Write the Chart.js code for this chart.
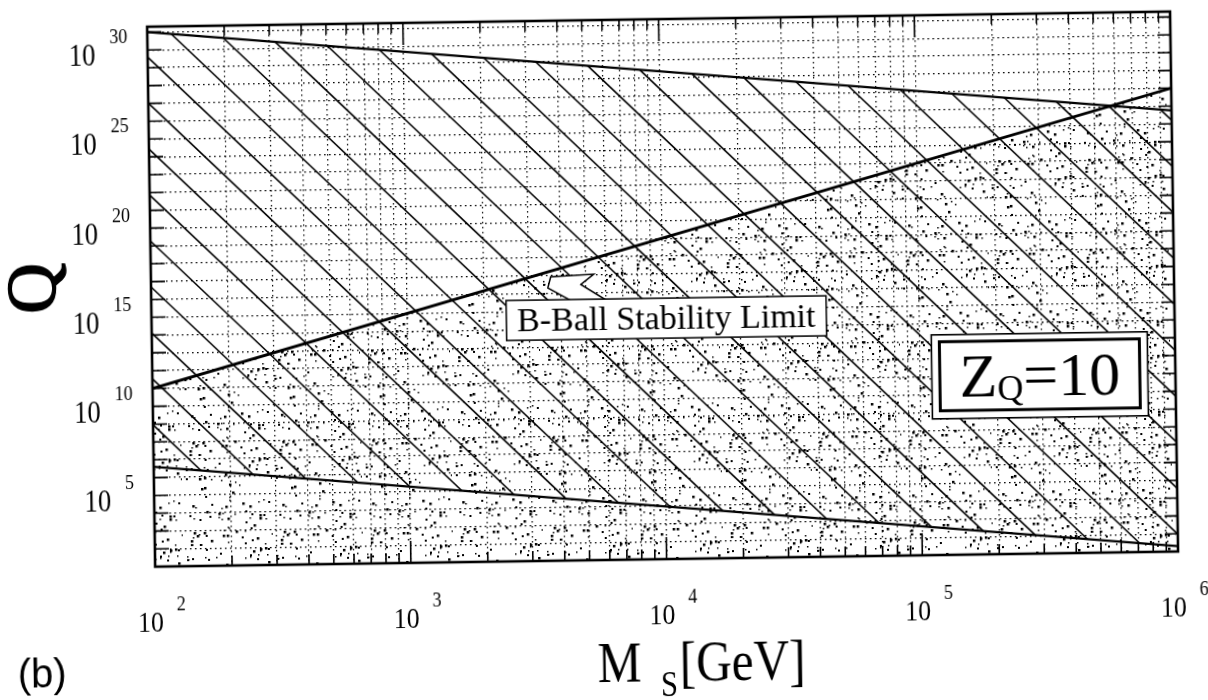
<!DOCTYPE html>
<html>
<head>
<meta charset="utf-8">
<script src="https://cdn.jsdelivr.net/npm/chart.js@4.4.1/dist/chart.umd.min.js"></script>
<style>
html, body { margin: 0; padding: 0; background: #fff; overflow: hidden; }
#hoja { width: 1208px; height: 700px; transform: rotate(-0.85deg); }
canvas { display: block; }
</style>
</head>
<body>
<div id="hoja"><canvas id="grafico" width="1208" height="700"></canvas></div>
<script>
// M_S en GeV, Q adimensional
const upperM = [1e2, 1e6]
const upperQ = [1e30, 5.6e24]
const stabM = [1e2, 1e6]
const stabQ = [1e10, 1e26]
const lowerM = [1e2, 1e6]
const lowerQ = [4e5, 2]

// rayado diagonal: cada linea va de (fromM, fromQ) a (toM, toQ)
const hatchFromM = [1e2, 1e2, 1e2, 1e2, 1e2, 1e2, 1e2, 1e2, 1e2,
    124, 198, 316, 505, 806, 1290, 2060, 3290, 5250, 8380,
    1.34e4, 2.14e4, 3.41e4, 5.45e4, 8.71e4, 1.39e5, 2.22e5, 3.55e5, 5.67e5, 9.05e5]
const hatchFromQ = [9.1e7, 3.5e10, 1.3e13, 5.0e15, 1.9e18, 7.2e20, 2.75e23, 1.05e26, 4.0e28,
    7.6e29, 4.1e29, 2.2e29, 1.2e29, 6.5e28, 3.5e28, 1.9e28, 1.0e28, 5.5e27, 3.0e27,
    1.6e27, 8.7e26, 4.8e26, 2.6e26, 1.4e26, 7.4e25, 4.1e25, 2.2e25, 1.2e25, 6.5e24]
const hatchToM = [153, 245, 392, 627, 1000, 1600, 2560, 4080, 6530,
    1.04e4, 1.67e4, 2.66e4, 4.25e4, 6.8e4, 1.09e5, 1.74e5, 2.77e5, 4.43e5, 7.08e5,
    1e6, 1e6, 1e6, 1e6, 1e6, 1e6, 1e6, 1e6, 1e6, 1e6]
const hatchToQ = [2.3e5, 1.2e5, 6.6e4, 3.5e4, 1.9e4, 1.0e4, 5.4e3, 2.95e3, 1.58e3,
    850, 455, 245, 132, 71, 38, 20, 11, 5.9, 3.2,
    9.5, 3.6e3, 1.4e6, 5.2e8, 2.0e11, 7.6e13, 2.9e16, 1.1e19, 4.2e21, 1.6e24]

const massExp = [2, 3, 4, 5, 6]
const chargeExp = [5, 10, 15, 20, 25, 30]
const stabLabel = "B-Ball Stability Limit"
const stabLabelAt = [1.03e4, 3.3e13]
const zqAt = [2.95e5, 1e10]

const SERIF = '"Liberation Serif", "Times New Roman", serif'

function puntos(ms, qs){
    return ms.map((m, i) => ({x: m, y: qs[i]}))
}

// textura de puntitos para la region estable
function punteado(ctx){
    const c = document.createElement('canvas')
    c.width = 90; c.height = 90
    const g = c.getContext('2d')
    g.fillStyle = '#000'
    let s = 11
    for (let i = 0; i < 95; i++){
        s = (s * 16807) % 2147483647; const x = s % 90
        s = (s * 16807) % 2147483647; const y = s % 90
        s = (s * 16807) % 2147483647; const r = 1.5 + (s % 3) * 0.5
        g.fillRect(x, y, r, r)
    }
    return ctx.createPattern(c, 'repeat')
}

function texto(ctx, str, x, y, size, align, squeeze){
    ctx.save()
    ctx.translate(x, y)
    ctx.scale(squeeze || 1, 1)
    ctx.font = size + 'px ' + SERIF
    ctx.textAlign = align
    ctx.textBaseline = 'alphabetic'
    ctx.fillText(str, 0, 0)
    ctx.restore()
}

function ancho(ctx, str, size, squeeze){
    ctx.save()
    ctx.font = size + 'px ' + SERIF
    const w = ctx.measureText(str).width * (squeeze || 1)
    ctx.restore()
    return w
}

function esDecada(v){
    const l = Math.log10(v)
    return Math.abs(l - Math.round(l)) < 1e-9
}

const marco = {
    id: 'marco',
    afterDraw(chart){
        const ctx = chart.ctx
        const a = chart.chartArea
        const xs = chart.scales.x, ys = chart.scales.y
        ctx.save()
        ctx.strokeStyle = '#000'
        ctx.fillStyle = '#000'

        // marcas en los cuatro lados
        ctx.lineWidth = 1.6
        ctx.beginPath()
        xs.ticks.forEach(t => {
            const px = xs.getPixelForValue(t.value)
            const len = esDecada(t.value) ? 22 : 10
            ctx.moveTo(px, a.top); ctx.lineTo(px, a.top + len)
            ctx.moveTo(px, a.bottom); ctx.lineTo(px, a.bottom - len)
        })
        ys.ticks.forEach(t => {
            const py = ys.getPixelForValue(t.value)
            ctx.moveTo(a.left, py); ctx.lineTo(a.left + 14, py)
            ctx.moveTo(a.right, py); ctx.lineTo(a.right - 13, py)
        })
        ctx.stroke()

        ctx.lineWidth = 2.6
        ctx.strokeRect(a.left, a.top, a.right - a.left, a.bottom - a.top)

        // etiquetas del eje x
        massExp.forEach(e => {
            const px = xs.getPixelForValue(Math.pow(10, e))
            texto(ctx, '10', px - 5, a.bottom + 65, 30, 'center', 0.86)
            texto(ctx, String(e), px + 21, a.bottom + 44, 21, 'left', 0.86)
        })
        // etiquetas del eje y
        chargeExp.forEach(e => {
            const py = ys.getPixelForValue(Math.pow(10, e))
            const w = ancho(ctx, String(e), 21, 0.86)
            texto(ctx, String(e), a.left - 20, py + 11, 21, 'right', 0.86)
            texto(ctx, '10', a.left - 20 - w - 14, py + 33, 31, 'right', 0.86)
        })

        // titulos de los ejes
        const mx = 593, my = 682
        texto(ctx, 'M', mx, my, 58, 'left', 0.85)
        texto(ctx, 'S', mx + 63, my + 15, 36, 'left', 0.85)
        texto(ctx, '[GeV]', mx + 82, my, 58, 'left', 0.85)

        ctx.save()
        ctx.translate(56, 280)
        ctx.rotate(-Math.PI / 2)
        ctx.font = '70px ' + SERIF
        ctx.textAlign = 'center'
        ctx.lineWidth = 1.5
        ctx.fillText('Q', 0, 0)
        ctx.strokeText('Q', 0, 0)
        ctx.restore()

        ctx.font = '40px "Liberation Sans", Arial, sans-serif'
        ctx.textAlign = 'left'
        ctx.fillText('(b)', 13, 679)

        // recuadro de la linea de estabilidad con su flecha
        const bx = xs.getPixelForValue(stabLabelAt[0]), by = ys.getPixelForValue(stabLabelAt[1])
        const bw = 320, bh = 40
        const L = bx - bw / 2, T = by - bh / 2
        ctx.lineWidth = 1.5
        ctx.beginPath()
        ctx.moveTo(L + 65, T + 1)
        ctx.lineTo(L + 42, T - 12)
        ctx.lineTo(L + 45, T - 23)
        ctx.lineTo(L + 88, T - 25)
        ctx.lineTo(L + 75, T - 15)
        ctx.lineTo(L + 100, T + 1)
        ctx.closePath()
        ctx.fillStyle = '#fff'
        ctx.fill()
        ctx.stroke()
        ctx.fillRect(L, T, bw, bh)
        ctx.strokeRect(L, T, bw, bh)
        ctx.fillStyle = '#000'
        ctx.font = '34px ' + SERIF
        ctx.textAlign = 'center'
        ctx.fillText(stabLabel, bx, T + 31)

        // recuadro Z_Q = 10
        const zx = xs.getPixelForValue(zqAt[0]), zy = ys.getPixelForValue(zqAt[1])
        ctx.fillStyle = '#fff'
        ctx.fillRect(zx - 108, zy - 42, 216, 84)
        ctx.lineWidth = 1.6
        ctx.strokeRect(zx - 108, zy - 42, 216, 84)
        ctx.lineWidth = 3
        ctx.strokeRect(zx - 100, zy - 35, 200, 69)
        ctx.fillStyle = '#000'
        const wz = ancho(ctx, 'Z', 62), wq = ancho(ctx, 'Q', 36), we = ancho(ctx, '=10', 62)
        let x0 = zx - (wz + wq + we) / 2
        texto(ctx, 'Z', x0, zy + 20, 62, 'left')
        texto(ctx, 'Q', x0 + wz, zy + 24, 36, 'left')
        texto(ctx, '=10', x0 + wz + wq, zy + 20, 62, 'left')

        ctx.restore()
    }
}

function crearGrafico(){
    const ctx = document.getElementById('grafico').getContext('2d')

    const datasets = []
    datasets.push({
        label: 'stability',
        data: puntos(stabM, stabQ),
        borderColor: '#000',
        borderWidth: 2.8,
        backgroundColor: punteado(ctx),
        fill: 'start'
    })
    datasets.push({label: 'upper', data: puntos(upperM, upperQ), borderColor: '#000', borderWidth: 2.2})
    datasets.push({label: 'lower', data: puntos(lowerM, lowerQ), borderColor: '#000', borderWidth: 2.2})
    hatchFromM.forEach((m, i) => {
        datasets.push({
            label: 'h' + i,
            data: [{x: m, y: hatchFromQ[i]}, {x: hatchToM[i], y: hatchToQ[i]}],
            borderColor: '#000',
            borderWidth: 1.6
        })
    })

    const xTicks = []
    for (let e = 2; e < 6; e++){
        for (let k = 1; k < 10; k++) xTicks.push(k * Math.pow(10, e))
    }
    xTicks.push(1e6)
    const yTicks = []
    for (let e = 0; e <= 30; e++) yTicks.push(Math.pow(10, e))

    const rejilla = {color: '#000', lineWidth: 1.2, drawTicks: false}
    const borde = {display: false, dash: [1.6, 3.4]}

    new Chart(ctx, {
        type: 'line',
        data: {datasets: datasets},
        options: {
            responsive: false,
            animation: false,
            parsing: false,
            normalized: true,
            elements: {point: {radius: 0}, line: {tension: 0}},
            layout: {padding: {left: 152, right: 33, top: 20, bottom: 140}},
            plugins: {legend: {display: false}, tooltip: {enabled: false}},
            scales: {
                x: {
                    type: 'logarithmic', min: 1e2, max: 1e6,
                    afterBuildTicks: s => { s.ticks = xTicks.map(v => ({value: v})) },
                    ticks: {display: false},
                    grid: rejilla, border: borde
                },
                y: {
                    type: 'logarithmic', min: 1, max: 2e30,
                    afterBuildTicks: s => { s.ticks = yTicks.map(v => ({value: v})) },
                    ticks: {display: false},
                    grid: rejilla, border: borde
                }
            }
        },
        plugins: [marco]
    })
}
document.addEventListener('DOMContentLoaded', crearGrafico)
</script>
</body>
</html>
